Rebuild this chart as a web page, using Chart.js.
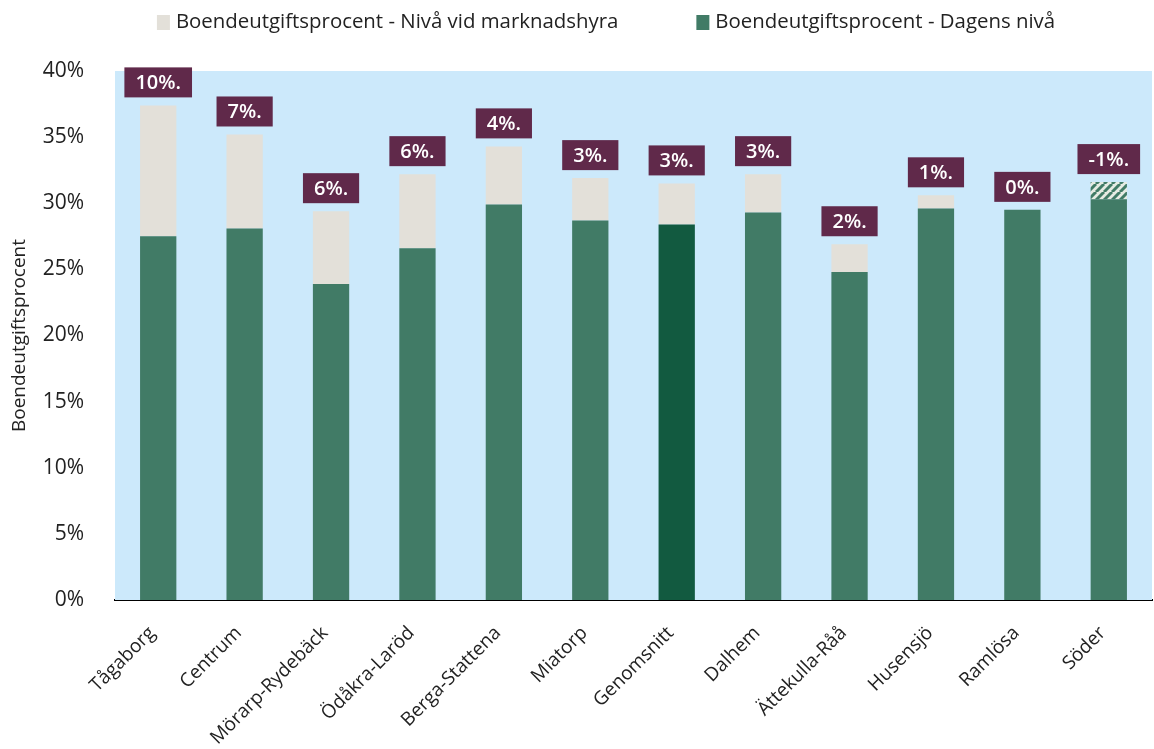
<!DOCTYPE html>
<html lang="sv">
<head>
<meta charset="UTF-8">
<title>Boendeutgiftsprocent</title>
<script src="https://cdn.jsdelivr.net/npm/chart.js@4.4.1/dist/chart.umd.min.js"></script>
<style>
	html, body { margin: 0; padding: 0; background: #fff; }
	#wrap { width: 1154px; height: 749px; }
</style>
</head>
<body>
<div id="wrap"><canvas id="chart" width="1154" height="749"></canvas></div>
<script>

// data
var categories = ['Tågaborg', 'Centrum', 'Mörarp-Rydebäck', 'Ödåkra-Laröd', 'Berga-Stattena', 'Miatorp',
	'Genomsnitt', 'Dalhem', 'Ättekulla-Råå', 'Husensjö', 'Ramlösa', 'Söder'];
var dagensNiva = [27.5, 28.1, 23.9, 26.6, 29.9, 28.7, 28.4, 29.3, 24.8, 29.6, 29.5, 31.6];
var marknadsNiva = [37.4, 35.2, 29.4, 32.2, 34.3, 31.9, 31.5, 32.2, 26.9, 30.6, 29.5, 30.3];
var skillnadLabels = ['10%.', '7%.', '6%.', '6%.', '4%.', '3%.', '3%.', '3%.', '2%.', '1%.', '0%.', '-1%.'];
var yTicks = [0, 5, 10, 15, 20, 25, 30, 35, 40];

var GREEN = '#417b66';
var DARK_GREEN = '#125a40';
var BEIGE = '#e3e0d9';
var PURPLE = '#60294a';
var PLOT_BG = '#cce9fb';
var TEXT = '#222';
var FONT = '"Open Sans", Lato, sans-serif';

// base is the lower of the two levels, the rest is stacked on top
var base = [], okning = [], minskning = [];
for (let i = 0; i < categories.length; i++) {
	base.push(Math.min(dagensNiva[i], marknadsNiva[i]));
	okning.push(Math.max(0, marknadsNiva[i] - dagensNiva[i]));
	minskning.push(Math.max(0, dagensNiva[i] - marknadsNiva[i]));
}

// striped fill for bars where market level is below today's level
function makeHatch() {
	var c = document.createElement('canvas');
	c.width = 8; c.height = 8;
	var g = c.getContext('2d');
	g.fillStyle = '#e6ebe3';
	g.fillRect(0, 0, 8, 8);
	g.strokeStyle = GREEN;
	g.lineWidth = 3;
	for (let k = -8; k <= 16; k += 8) {
		g.beginPath();
		g.moveTo(k, 8);
		g.lineTo(k + 8, 0);
		g.stroke();
	}
	return g.createPattern(c, 'repeat');
}

var plotBackground = {
	id: 'plotBackground',
	beforeDatasetsDraw(chart) {
		var a = chart.chartArea, ctx = chart.ctx;
		ctx.save();
		ctx.fillStyle = PLOT_BG;
		ctx.fillRect(a.left, a.top, a.right - a.left, a.bottom - a.top);
		ctx.restore();
	}
};

var diffBoxes = {
	id: 'diffBoxes',
	afterDatasetsDraw(chart) {
		var ctx = chart.ctx;
		var y = chart.scales.y;
		var meta = chart.getDatasetMeta(0);
		ctx.save();
		ctx.font = '600 20px ' + FONT;
		ctx.textAlign = 'center';
		ctx.textBaseline = 'middle';
		for (let i = 0; i < categories.length; i++) {
			var top = y.getPixelForValue(Math.max(dagensNiva[i], marknadsNiva[i]));
			var x = meta.data[i].x;
			var w = ctx.measureText(skillnadLabels[i]).width + 22;
			var h = 30;
			var by = top - 8 - h;
			ctx.fillStyle = PURPLE;
			ctx.fillRect(x - w / 2, by, w, h);
			ctx.fillStyle = '#fff';
			ctx.fillText(skillnadLabels[i], x, by + h / 2 + 1);
		}
		ctx.restore();
	}
};

// two-item legend on one row, beige item first
var topLegend = {
	id: 'topLegend',
	afterDraw(chart) {
		var ctx = chart.ctx;
		var items = [
			{ text: chart.data.datasets[1].label, color: BEIGE },
			{ text: chart.data.datasets[0].label, color: GREEN }
		];
		ctx.save();
		ctx.font = '20.4px ' + FONT;
		ctx.textBaseline = 'middle';
		var box = 13, gap = 6, between = 78;
		var total = 0;
		items.forEach((it, i) => {
			it.w = box + gap + ctx.measureText(it.text).width;
			total += it.w + (i ? between : 0);
		});
		var x = 606 - total / 2, y = 22;
		items.forEach(it => {
			ctx.fillStyle = it.color;
			ctx.fillRect(x, y - 7, box, 15);
			ctx.fillStyle = TEXT;
			ctx.fillText(it.text, x + box + gap, y);
			x += it.w + between;
		});
		ctx.restore();
	}
};

var ctx = document.getElementById('chart').getContext('2d');
var chart = new Chart(ctx, {
	type: 'bar',
	data: {
		labels: categories,
		datasets: [{
			label: 'Boendeutgiftsprocent - Dagens nivå',
			data: base,
			backgroundColor: categories.map(c => c === 'Genomsnitt' ? DARK_GREEN : GREEN),
			barPercentage: 0.84,
			categoryPercentage: 0.5
		}, {
			label: 'Boendeutgiftsprocent - Nivå vid marknadshyra',
			data: okning,
			backgroundColor: BEIGE,
			barPercentage: 0.84,
			categoryPercentage: 0.5
		}, {
			label: 'Boendeutgiftsprocent - Nivå vid marknadshyra (lägre)',
			data: minskning,
			backgroundColor: makeHatch(),
			barPercentage: 0.84,
			categoryPercentage: 0.5
		}]
	},
	options: {
		responsive: false,
		animation: false,
		layout: { padding: { left: 2, right: 2, top: 71, bottom: 0 } },
		plugins: {
			tooltip: { enabled: false },
			legend: { display: false }
		},
		scales: {
			x: {
				stacked: true,
				afterFit: s => { s.height = 149; },
				grid: { display: false },
				border: { display: true, color: '#000', width: 2 },
				ticks: {
					color: TEXT,
					font: { family: FONT, size: 19 },
					minRotation: 45,
					maxRotation: 45,
					padding: 14,
					labelOffset: -6
				}
			},
			y: {
				stacked: true,
				min: 0,
				max: 40,
				afterBuildTicks: axis => { axis.ticks = yTicks.map(v => ({ value: v })); },
				afterFit: s => { s.width = 113; },
				grid: { display: false },
				border: { display: false },
				ticks: {
					color: TEXT,
					font: { family: FONT, size: 21 },
					padding: 23,
					callback: v => v + '%'
				},
				title: {
					display: true,
					text: 'Boendeutgiftsprocent',
					color: TEXT,
					font: { family: FONT, size: 19 },
					padding: { top: 6, bottom: 0 }
				}
			}
		}
	},
	plugins: [plotBackground, diffBoxes, topLegend]
});
</script>
</body>
</html>
